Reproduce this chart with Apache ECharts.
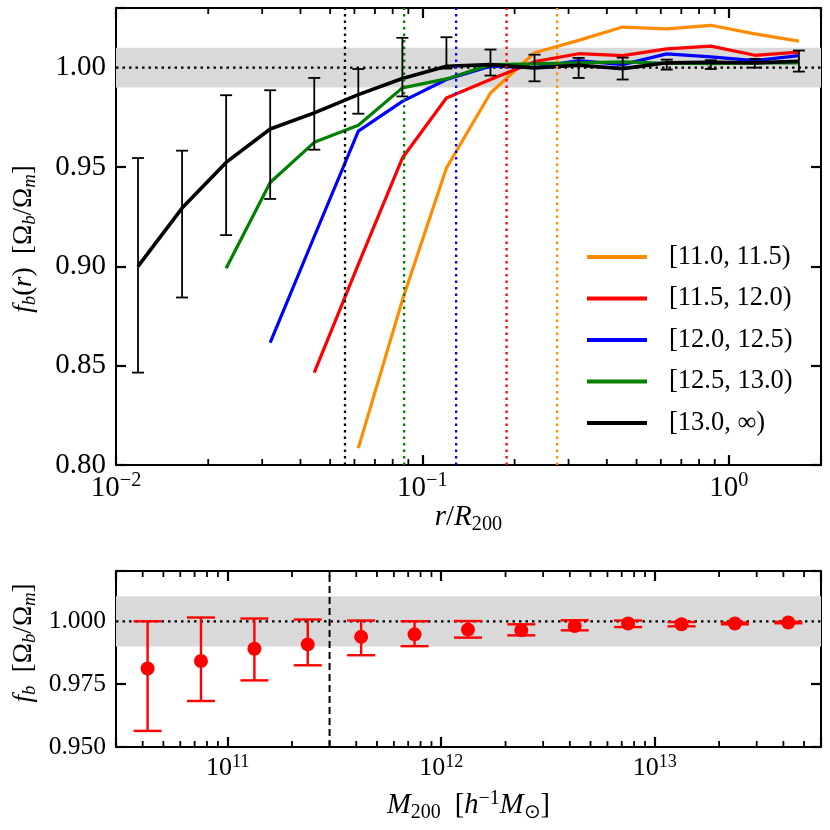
<!DOCTYPE html>
<html>
<head>
<meta charset="utf-8">
<script src="https://cdn.jsdelivr.net/npm/echarts@6/dist/echarts.min.js"></script>
<style>html,body{margin:0;padding:0;background:#fff}#c{width:830px;height:830px}</style>
</head>
<body>
<div id="c"></div>
<script>
// ---------------- data ----------------
// radial bins r/R200 (bin centres, log spaced)
const rBins = [0.0118, 0.01643, 0.02288, 0.03186, 0.04437, 0.06179, 0.08604, 0.1198, 0.1668, 0.2323, 0.3236, 0.4506, 0.6275, 0.8737, 1.2166, 1.694];
const massLabels = ['[11.0, 11.5)', '[11.5, 12.0)', '[12.0, 12.5)', '[12.5, 13.0)', '[13.0, \u221e)'];
const massColors = ['#ff8c00', '#ff0000', '#0000ff', '#008000', '#000000'];
const fb_11_0 = [null, null, null, null, null, 0.8085, 0.883, 0.9495, 0.9872, 1.0075, 1.0137, 1.0204, 1.0195, 1.0213, 1.0170, 1.0133];
const fb_11_5 = [null, null, null, null, 0.8465, 0.901, 0.9545, 0.9847, 0.9940, 1.0030, 1.0070, 1.0060, 1.0094, 1.0108, 1.0062, 1.0078];
const fb_12_0 = [null, null, null, 0.8616, 0.915, 0.968, 0.983, 0.9940, 1.0007, 1.0000, 1.0035, 1.0015, 1.0069, 1.0054, 1.0035, 1.0060];
const fb_12_5 = [null, null, 0.899, 0.9422, 0.9624, 0.9710, 0.9898, 0.9943, 1.0015, 1.0019, 1.0024, 1.0029, 1.0022, 1.0020, 1.0024, 1.0024];
const fb_13_0 = [0.900, 0.9293, 0.9523, 0.9691, 0.9772, 0.9864, 0.9945, 1.0007, 1.0015, 0.9998, 1.0012, 0.9995, 1.0024, 1.0027, 1.0024, 1.0032];
const fb_13_0_low  = [0.8465, 0.8843, 0.9157, 0.9339, 0.9587, 0.9768, 0.9855, 0.9995, 0.9960, 0.9931, 0.9948, 0.9940, 0.9990, 0.9993, 1.0000, 0.9980];
const fb_13_0_high = [0.9545, 0.9582, 0.9861, 0.9886, 0.9948, 0.9993, 1.0150, 1.0153, 1.0091, 1.0065, 1.0049, 1.0050, 1.0040, 1.0037, 1.0044, 1.0086];
// characteristic radius of each mass bin (vertical dotted lines)
const rLimit = [0.2754, 0.1883, 0.1289, 0.0872, 0.0559];

// halo mass bins
const massBins = [4.217e10, 7.499e10, 1.334e11, 2.371e11, 4.217e11, 7.499e11, 1.334e12, 2.371e12, 4.217e12, 7.499e12, 1.334e13, 2.371e13, 4.217e13];
const fbMass     = [0.9812, 0.9842, 0.9891, 0.9908, 0.9938, 0.9948, 0.9967, 0.9964, 0.9981, 0.9991, 0.9988, 0.9991, 0.9995];
const fbMassLow  = [0.9564, 0.9683, 0.9765, 0.9825, 0.9865, 0.9901, 0.9935, 0.9944, 0.9964, 0.9977, 0.9980, 0.9988, 0.9992];
const fbMassHigh = [1.0000, 1.0015, 1.0011, 1.0007, 1.0003, 1.0000, 1.0001, 0.9988, 1.0004, 1.0003, 0.9997, 0.9995, 0.9998];
const massLimit = 3e11;

// axes extents, bands and minor tick values
const rRange = [0.01, 2];
const fbRangeTop = [0.80, 1.03];
const mRange = [3e10, 6e13];
const fbRangeBot = [0.95, 1.02];
const band = [0.99, 1.01];
const rMinorTicks = [0.02, 0.03, 0.04, 0.05, 0.06, 0.07, 0.08, 0.09, 0.2, 0.3, 0.4, 0.5, 0.6, 0.7, 0.8, 0.9];
const mMinorTicks = [4e10, 5e10, 6e10, 7e10, 8e10, 9e10, 2e11, 3e11, 4e11, 5e11, 6e11, 7e11, 8e11, 9e11,
                     2e12, 3e12, 4e12, 5e12, 6e12, 7e12, 8e12, 9e12, 2e13, 3e13, 4e13, 5e13];

// ---------------- styling helpers ----------------
const FONT = 'Liberation Serif';
function makeRich(fs) {
  const fss = fs * 0.7, lh = Math.round(fs * 1.2), slh = Math.round(fss);
  return {
    n:   {fontFamily: FONT, fontSize: fs, color: '#000', lineHeight: lh, verticalAlign: 'middle'},
    i:   {fontFamily: FONT, fontSize: fs, fontStyle: 'italic', color: '#000', lineHeight: lh, verticalAlign: 'middle'},
    sub: {fontFamily: FONT, fontSize: fss, color: '#000', lineHeight: slh, verticalAlign: 'bottom'},
    subi:{fontFamily: FONT, fontSize: fss, fontStyle: 'italic', color: '#000', lineHeight: slh, verticalAlign: 'bottom'},
    sup: {fontFamily: FONT, fontSize: fss, color: '#000', lineHeight: slh, verticalAlign: 'top'}
  };
}
const richTopTick = makeRich(29);
const richBotTick = makeRich(26);
const richTitle = makeRich(29);
function pow10Label(v) {
  const l = Math.log10(v);
  const e = Math.round(l);
  if (Math.abs(l - e) > 1e-6) return '';
  return '{n|10}{sup|' + (e < 0 ? '\u2212' + (-e) : e) + '}';
}
function decLabel(step, digits) {
  return function (v) {
    const k = v / step;
    if (Math.abs(k - Math.round(k)) > 1e-6) return '';
    return v.toFixed(digits);
  };
}
const axisLine = {show: true, onZero: false, lineStyle: {color: '#000', width: 2}};
const majorTick = {show: true, inside: true, length: 10, lineStyle: {color: '#000', width: 2.2}};

function logX(grid, range, pos, rich, margin) {
  return {
    type: 'log', logBase: 10, gridIndex: grid, position: pos, min: range[0], max: range[1],
    axisLine: axisLine, axisTick: majorTick, minorTick: {show: false}, splitLine: {show: false},
    axisLabel: rich ? {show: true, margin: margin, formatter: pow10Label, rich: rich} : {show: false}
  };
}
function valY(grid, range, step, digits, pos, fs) {
  return {
    type: 'value', gridIndex: grid, position: pos, min: range[0], max: range[1], interval: step,
    axisLine: axisLine, axisTick: majorTick, splitLine: {show: false},
    axisLabel: fs ? {show: true, margin: 10, fontFamily: FONT, fontSize: fs, color: '#000', formatter: decLabel(step, digits)} : {show: false}
  };
}
function zip(xs, ys) { return xs.map((x, k) => [x, ys[k]]); }
function bandSeries(xa, ya, xr) {
  return {
    type: 'custom', xAxisIndex: xa, yAxisIndex: ya, z: 1, silent: true, animation: false,
    data: [[xr[0], xr[1], band[0], band[1]]],
    renderItem: function (params, api) {
      const p0 = api.coord([api.value(0), api.value(3)]);
      const p1 = api.coord([api.value(1), api.value(2)]);
      return {type: 'rect', shape: {x: p0[0], y: p0[1], width: p1[0] - p0[0], height: p1[1] - p0[1]}, style: {fill: '#d9d9d9'}};
    }
  };
}
// minor x ticks (inside) at one edge of a panel: dir = -1 points up from bottom edge, +1 points down from top edge
function minorTickSeries(xa, ya, vals, yEdge, dir) {
  return {
    type: 'custom', xAxisIndex: xa, yAxisIndex: ya, z: 20, silent: true, animation: false,
    data: vals.map(v => [v, yEdge]),
    renderItem: function (params, api) {
      const a = api.coord([api.value(0), api.value(1)]);
      return {type: 'line', shape: {x1: a[0], y1: a[1], x2: a[0], y2: a[1] + dir * 6}, style: {stroke: '#000', lineWidth: 1.8}};
    }
  };
}
function refLine(xa, ya, pts, color, dash, width, z) {
  return {type: 'line', xAxisIndex: xa, yAxisIndex: ya, data: pts, symbol: 'none', silent: true, animation: false, z: z,
          lineStyle: {color: color, width: width, type: dash}};
}
function errorSeries(xa, ya, xs, lo, hi, color, lw, cap, z) {
  return {
    type: 'custom', xAxisIndex: xa, yAxisIndex: ya, z: z, silent: true, animation: false,
    data: xs.map((x, k) => [x, lo[k], hi[k]]),
    encode: {x: 0, y: [1, 2]},
    renderItem: function (params, api) {
      const a = api.coord([api.value(0), api.value(1)]);
      const b = api.coord([api.value(0), api.value(2)]);
      const st = {stroke: color, lineWidth: lw};
      return {type: 'group', children: [
        {type: 'line', shape: {x1: a[0], y1: a[1], x2: b[0], y2: b[1]}, style: st},
        {type: 'line', shape: {x1: a[0] - cap, y1: a[1], x2: a[0] + cap, y2: a[1]}, style: st},
        {type: 'line', shape: {x1: b[0] - cap, y1: b[1], x2: b[0] + cap, y2: b[1]}, style: st}
      ]};
    }
  };
}

const profiles = [fb_11_0, fb_11_5, fb_12_0, fb_12_5, fb_13_0];
const series = [];
series.push(bandSeries(0, 0, rRange));
series.push(refLine(0, 0, [[rRange[0], 1], [rRange[1], 1]], '#000', [2.5, 4], 2.3, 2));
profiles.forEach((p, k) => {
  series.push({
    name: massLabels[k], type: 'line', xAxisIndex: 0, yAxisIndex: 0, data: zip(rBins, p),
    symbol: 'none', connectNulls: false, animation: false, z: 3,
    lineStyle: {color: massColors[k], width: k === 4 ? 3.6 : 3.2}, itemStyle: {color: massColors[k]}
  });
});
rLimit.forEach((r, k) => {
  series.push(refLine(0, 0, [[r, fbRangeTop[0]], [r, fbRangeTop[1]]], massColors[k], [2.5, 4], 2.3, 4));
});
series.push(errorSeries(0, 0, rBins, fb_13_0_low, fb_13_0_high, '#000', 1.8, 6, 6));
series.push(minorTickSeries(0, 0, rMinorTicks, fbRangeTop[0], -1));
series.push(minorTickSeries(0, 0, rMinorTicks, fbRangeTop[1], 1));

// bottom panel
series.push(bandSeries(2, 2, mRange));
series.push(refLine(2, 2, [[mRange[0], 1], [mRange[1], 1]], '#000', [2.5, 4], 2.3, 2));
series.push(refLine(2, 2, [[massLimit, fbRangeBot[0]], [massLimit, fbRangeBot[1]]], '#000', [7, 4], 2, 2));
series.push(errorSeries(2, 2, massBins, fbMassLow, fbMassHigh, '#ff0000', 2.4, 14, 5));
series.push({type: 'scatter', xAxisIndex: 2, yAxisIndex: 2, data: zip(massBins, fbMass), symbol: 'circle', symbolSize: 14,
             itemStyle: {color: '#ff0000', opacity: 1}, z: 6, animation: false, silent: true});
series.push(minorTickSeries(2, 2, mMinorTicks, fbRangeBot[0], -1));
series.push(minorTickSeries(2, 2, mMinorTicks, fbRangeBot[1], 1));

const chart = echarts.init(document.getElementById('c'), null, {renderer: 'canvas'});
chart.setOption({
  backgroundColor: '#fff',
  animation: false,
  grid: [
    {left: 116, right: 9, top: 8, height: 457},
    {left: 116, right: 9, top: 571, height: 176}
  ],
  xAxis: [
    logX(0, rRange, 'bottom', richTopTick, 6),
    logX(0, rRange, 'top', null),
    logX(1, mRange, 'bottom', richBotTick, 6),
    logX(1, mRange, 'top', null)
  ],
  yAxis: [
    valY(0, fbRangeTop, 0.05, 2, 'left', 29),
    valY(0, fbRangeTop, 0.05, 2, 'right', 0),
    valY(1, fbRangeBot, 0.025, 3, 'left', 25.5),
    valY(1, fbRangeBot, 0.025, 3, 'right', 0)
  ],
  legend: {
    data: massLabels, orient: 'vertical', left: 587, top: 242, padding: 0,
    itemWidth: 60, itemHeight: 4, itemGap: 11.5, icon: 'rect', selectedMode: false,
    textStyle: {fontFamily: FONT, fontSize: 26.5, color: '#000', lineHeight: 30, padding: [0, 0, 0, 17]}
  },
  graphic: [
    {type: 'text', silent: true, x: 468.5, y: 517,
     style: {text: '{i|r}{n|/}{i|R}{sub|200}', rich: richTitle, align: 'center', verticalAlign: 'middle'}},
    {type: 'text', silent: true, x: 468.5, y: 806,
     style: {text: '{i|M}{sub|200}{n|  [}{i|h}{sup|\u22121}{i|M}{sub|\u2299}{n|]}', rich: makeRich(28.5), align: 'center', verticalAlign: 'middle'}},
    {type: 'text', silent: true, x: 24, y: 239, rotation: Math.PI / 2,
     style: {text: '{i|f}{subi|b}{n|(}{i|r}{n|)  [\u03a9}{subi|b}{n|/\u03a9}{subi|m}{n|]}', rich: makeRich(27), align: 'center', verticalAlign: 'middle'}},
    {type: 'text', silent: true, x: 24, y: 643, rotation: Math.PI / 2,
     style: {text: '{i|f}{subi|b}{n|  [\u03a9}{subi|b}{n|/\u03a9}{subi|m}{n|]}', rich: makeRich(27), align: 'center', verticalAlign: 'middle'}}
  ],
  series: series
});
</script>
</body>
</html>
